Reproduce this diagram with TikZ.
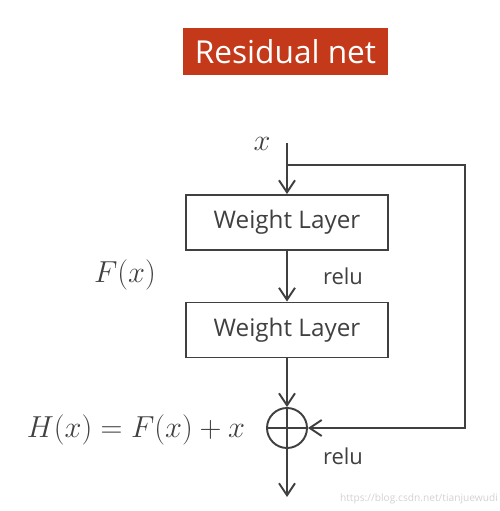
\documentclass[tikz,border=0pt]{standalone}
\usepackage{fontspec}
\setsansfont{Open Sans}
\usetikzlibrary{positioning,arrows.meta,calc}
\definecolor{ink}{HTML}{404040}
\definecolor{titlered}{HTML}{C4391A}
\tikzset{
  blk/.style={draw=ink, line width=1.1pt, align=center, font=\sffamily\fontsize{13.8}{16}\selectfont,
              text=ink, minimum width=4.04cm, minimum height=1.1cm, inner sep=2pt},
  lbl/.style={font=\sffamily\fontsize{12.5}{15}\selectfont, text=ink},
  mth/.style={font=\fontsize{18}{21}\selectfont, text=ink},
  flow/.style={-{Straight Barb[length=2.4mm,width=3.2mm]}, line width=1.1pt, draw=ink},
}
\begin{document}
\begin{tikzpicture}
  \useasboundingbox (0,0) rectangle (10,10.22);
  \node[fill=titlered, text=white, font=\sffamily\fontsize{18}{21}\selectfont,
        minimum width=4.1cm, minimum height=0.94cm] (title) at (5.71,9.19) {Residual net};
  \node[mth] (xin) at (5.24,7.34) {$x$};
  \coordinate (top) at (5.74,7.36);
  \coordinate (fork) at (5.74,6.92);
  \coordinate (corner) at (9.30,6.92);
  \node[blk] (wl1) at (5.74,5.77) {Weight Layer};
  \node[blk] (wl2) at (5.74,3.62) {Weight Layer};
  \node[lbl] (relu1) at (6.86,4.70) {relu};
  \node[mth] (fx) at (2.5,4.72) {$F(x)$};
  \node[circle, draw=ink, line width=1.1pt, minimum size=0.8cm, inner sep=0pt] (sum) at (5.74,1.66) {};
  \draw[ink, line width=1.1pt] (sum.west) -- (sum.east);
  \node[mth] (hx) at (2.72,1.62) {$H(x) = F(x) + x$};
  \node[lbl] (relu2) at (6.86,1.10) {relu};
  \coordinate (out) at (5.74,0.28);
  \node[font=\sffamily\fontsize{5.8}{7}\selectfont, text=gray!35] (mark) at (8.38,0.24) {https://blog.csdn.net/tianjuewudi};
  % main path
  \draw[flow] (top) -- (wl1);
  \draw[flow] (wl1) -- (wl2);
  \draw[flow] (wl2) -- (sum);
  \draw[flow] (sum.center) -- (out);
  \draw[ink, line width=1.1pt] (sum.north) -- (sum.south);
  % shortcut
  \draw[flow] (fork) -- (corner) |- (sum.east);
\end{tikzpicture}
\end{document}
